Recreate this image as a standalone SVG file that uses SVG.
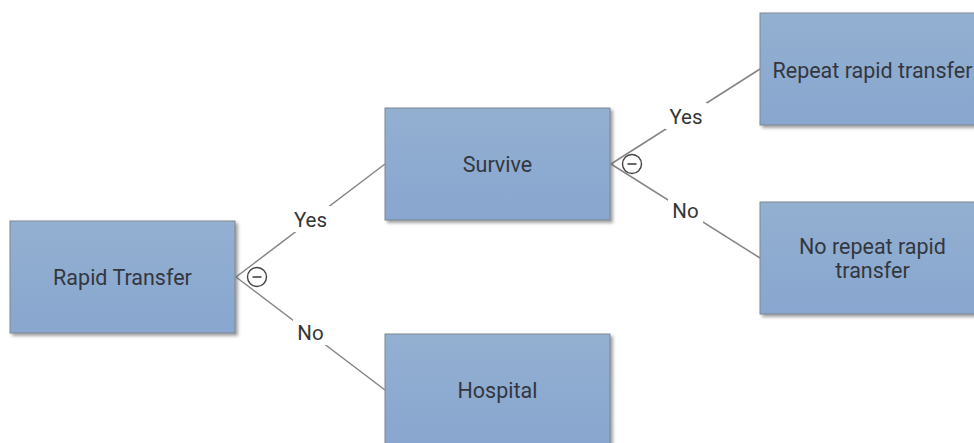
<svg xmlns="http://www.w3.org/2000/svg" width="974" height="443" viewBox="0 0 974 443">
<defs>
<linearGradient id="boxfill" x1="0" y1="0" x2="0" y2="1">
<stop offset="0" stop-color="#93b0d1"/>
<stop offset="1" stop-color="#88a6cf"/>
</linearGradient>
<filter id="shadow" x="-10%" y="-10%" width="130%" height="130%">
<feDropShadow dx="2.5" dy="2.5" stdDeviation="1.6" flood-color="#555555" flood-opacity="0.55"/>
</filter>
<style>
.box{fill:url(#boxfill);stroke:#7d8791;stroke-width:1;filter:url(#shadow);}
.t{font-family:Roboto,"Liberation Sans",sans-serif;font-size:21.5px;fill:#33373d;text-anchor:middle;}
.edge{stroke:#858585;stroke-width:1.5;fill:none;}
.lblbg{fill:#ffffff;}
.lbl{font-family:Roboto,"Liberation Sans",sans-serif;font-size:20.5px;fill:#353535;text-anchor:middle;}
.dec{fill:#ffffff;stroke:#444444;stroke-width:1.4;}
.minus{stroke:#444444;stroke-width:1.6;}
</style>
</defs>
<rect width="974" height="443" fill="#ffffff"/>
<g id="connectors">
<line class="edge" x1="236" y1="277" x2="385" y2="164"/>
<line class="edge" x1="236" y1="277" x2="385" y2="390"/>
<line class="edge" x1="611" y1="164" x2="760" y2="69"/>
<line class="edge" x1="611" y1="164" x2="760" y2="258"/>
<rect class="lblbg" x="290" y="206" width="42" height="26"/>
<text class="lbl" x="310.5" y="227">Yes</text>
<rect class="lblbg" x="293" y="319" width="35" height="26"/>
<text class="lbl" x="310.5" y="340">No</text>
<rect class="lblbg" x="665" y="103" width="42" height="26"/>
<text class="lbl" x="686" y="124">Yes</text>
<rect class="lblbg" x="668" y="197" width="35" height="26"/>
<text class="lbl" x="685.5" y="218">No</text>
<circle class="dec" cx="257" cy="277" r="9.5"/>
<line class="minus" x1="252.5" y1="277" x2="261.5" y2="277"/>
<circle class="dec" cx="632" cy="164" r="9.5"/>
<line class="minus" x1="627.5" y1="164" x2="636.5" y2="164"/>
</g>
<g id="node-rapid-transfer">
<rect class="box" x="10" y="221" width="225" height="112"/>
<text class="t" x="122.5" y="284.5">Rapid Transfer</text>
</g>
<g id="node-survive">
<rect class="box" x="385" y="108" width="225" height="112"/>
<text class="t" x="497.5" y="171.5">Survive</text>
</g>
<g id="node-hospital">
<rect class="box" x="385" y="334" width="225" height="112"/>
<text class="t" x="497.5" y="397.5">Hospital</text>
</g>
<g id="node-repeat">
<rect class="box" x="760" y="13" width="225" height="112"/>
<text class="t" x="872.5" y="78">Repeat rapid transfer</text>
</g>
<g id="node-no-repeat">
<rect class="box" x="760" y="202" width="225" height="112"/>
<text class="t" x="872.5" y="253.5">No repeat rapid</text>
<text class="t" x="872.5" y="278">transfer</text>
</g>
</svg>
